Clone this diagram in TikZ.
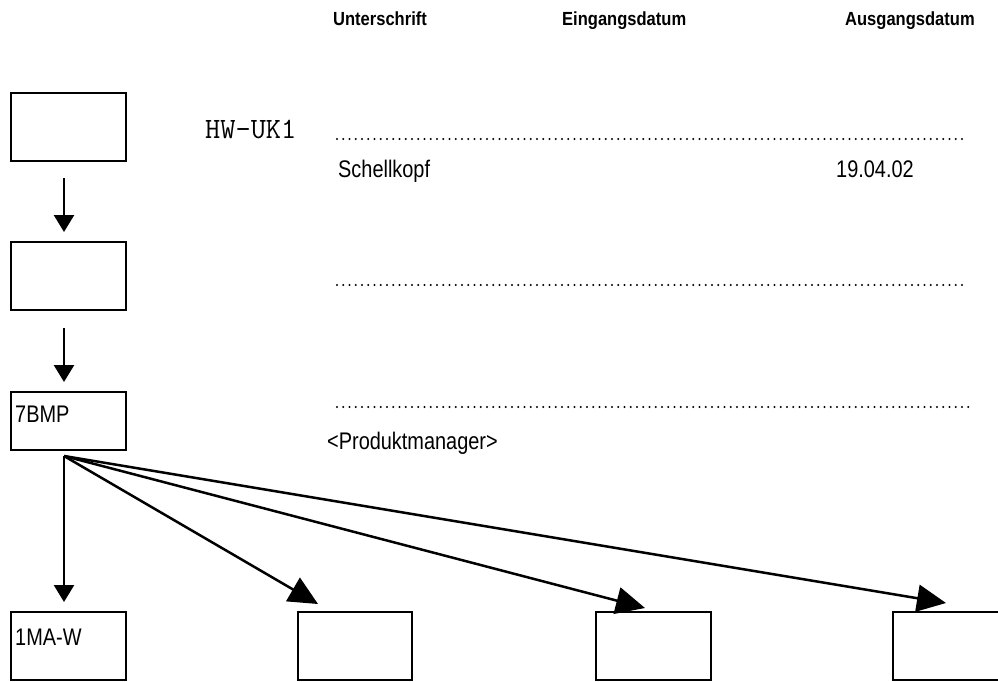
\documentclass[tikz,border=0pt]{standalone}
\usepackage{fontspec}
\setmainfont[FakeStretch=0.83]{Liberation Sans}
\newfontfamily\hdrfont[FakeStretch=0.87]{Liberation Sans}
\usetikzlibrary{arrows.meta}
\begin{document}
\begin{tikzpicture}[x=1pt,y=-1pt,
  boxnode/.style={draw,line width=2.5pt,inner sep=0pt,minimum height=68pt},
  txt/.style={anchor=base west,inner sep=0pt,font=\fontsize{24}{28}\selectfont},
  hdr/.style={anchor=base west,inner sep=0pt,font=\hdrfont\bfseries\fontsize{19}{22}\selectfont},
  dotline/.style={line width=2.3pt,line cap=round,dash pattern=on 0pt off 6.25pt},
  smallarrow/.style={line width=2.5pt,-{Triangle[length=17pt,width=20pt]}},
  bigarrow/.style={line width=2.5pt,-{Triangle[length=29pt,width=27pt]}}]
\useasboundingbox (0,0) rectangle (998,681);
% headers
\node[hdr] (h1) at (333,25) {Unterschrift};
\node[hdr] (h2) at (562,25) {Eingangsdatum};
\node[hdr] (h3) at (845,25) {Ausgangsdatum};
% left column boxes
\node[boxnode,minimum width=115pt] (b1) at (68.5,127) {};
\node[boxnode,minimum width=115pt] (b2) at (68.5,276) {};
\node[boxnode,minimum width=115pt,minimum height=58pt] (b3) at (68.5,421) {};
\node[txt] (t3) at (15,422) {7BMP};
% bottom boxes
\node[boxnode,minimum width=115pt] (c1) at (68.5,646) {};
\node[txt] (tc1) at (15,645) {1MA-W};
\node[boxnode,minimum width=114pt] (c2) at (355,646) {};
\node[boxnode,minimum width=115pt] (c3) at (653.5,646) {};
\node[boxnode,minimum width=130pt] (c4) at (958,646) {};
% texts
\node[anchor=base west,inner sep=0pt,font=\ttfamily\fontsize{29.5}{32}\selectfont] (hw) at (205,138) {HW-UK1};
\node[txt] (s1) at (338,177) {Schellkopf};
\node[txt] (d1) at (836,177) {19.04.02};
\node[txt] (pm) at (327,449) {<Produktmanager>};
% dotted lines
\draw[dotline] (337,139) -- (968,139);
\draw[dotline] (337,285) -- (968,285);
\draw[dotline] (337,407) -- (972,407);
% arrows
\coordinate (a1s) at (64,178);
\coordinate (a1e) at (64,232);
\coordinate (a2s) at (64,328);
\coordinate (a2e) at (64,382);
\coordinate (o) at (64,456);
\coordinate (e1) at (64,602);
\coordinate (e2) at (318,604);
\coordinate (e3) at (645,608);
\coordinate (e4) at (946,603);
\draw[smallarrow] (a1s) -- (a1e);
\draw[smallarrow] (a2s) -- (a2e);
\draw[smallarrow] (o) -- (e1);
\draw[bigarrow] (o) -- (e2);
\draw[bigarrow] (o) -- (e3);
\draw[bigarrow] (o) -- (e4);
\end{tikzpicture}
\end{document}
